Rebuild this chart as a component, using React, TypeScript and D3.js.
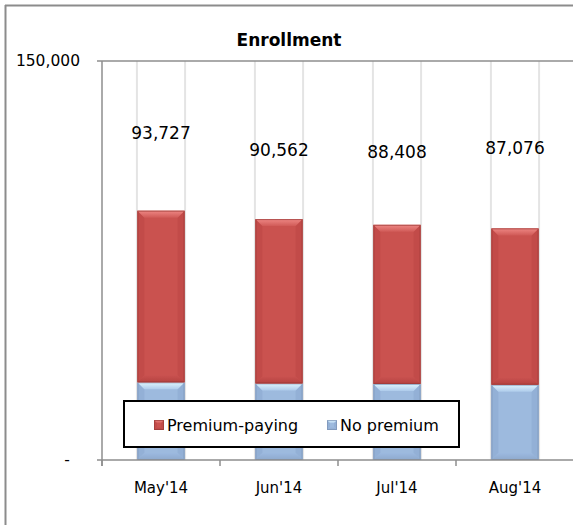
import React, { useRef, useEffect } from 'react';
import * as d3 from 'd3';

const months = ["May'14", "Jun'14", "Jul'14", "Aug'14"];
const noPremium = [29200, 28800, 28600, 28300];
const premiumPaying = [64527, 61762, 59808, 58776];
const totals = [93727, 90562, 88408, 87076];
// where Excel left the total labels floating, in value units
const labelAt = [122900, 116600, 115800, 117300];
const yTicks = [0, 150000];

const FONT = '"DejaVu Sans", sans-serif';

const App = () => {
  const ref = useRef<SVGSVGElement>(null);

  useEffect(() => {
    drawChart();
  }, []);

  const drawChart = () => {
    const width = 573;
    const height = 525;
    const svg = d3.select(ref.current);
    svg.selectAll('*').remove();

    const left = 102, right = 574, top = 61, bottom = 460;

    const x = d3.scaleBand().domain(months).range([left, right]).paddingInner(0.6).paddingOuter(0.3);
    const y = d3.scaleLinear().domain([0, 150000]).range([bottom, top]);

    const defs = svg.append('defs');
    const grad = (id, c1, c2) => {
      const g = defs.append('linearGradient').attr('id', id)
        .attr('x1', 0).attr('y1', 0).attr('x2', 0).attr('y2', 1);
      g.append('stop').attr('offset', '0%').attr('stop-color', c1);
      g.append('stop').attr('offset', '100%').attr('stop-color', c2);
    };
    grad('redTop', '#ee8784', '#d05a57');
    grad('blueTop', '#dff5fd', '#aecbeb');
    grad('redBot', '#c9514f', '#b54341');
    grad('blueBot', '#9cb9df', '#8ea9cd');

    const colors = {
      red: { base: '#ca524f', top: 'url(#redTop)', side: '#c24b49', bottom: 'url(#redBot)', stroke: '#9a3a38' },
      blue: { base: '#9dbade', top: 'url(#blueTop)', side: '#93b0d6', bottom: 'url(#blueBot)', stroke: '#7a92b4' },
    };

    // outer chart frame (only top/left visible in the window)
    svg.append('line').attr('x1', 5).attr('x2', width).attr('y1', 5.5).attr('y2', 5.5)
      .attr('stroke', '#8c8c8c').attr('stroke-width', 2);
    svg.append('line').attr('x1', 5.5).attr('x2', 5.5).attr('y1', 5).attr('y2', height)
      .attr('stroke', '#8c8c8c').attr('stroke-width', 2);

    // title
    svg.append('text').attr('x', 289).attr('y', 46).attr('text-anchor', 'middle')
      .attr('font-family', FONT).attr('font-weight', 'bold').attr('font-size', 17)
      .text('Enrollment');

    // light vertical lines at the bar edges
    months.forEach((m) => {
      [x(m) - 1, x(m) + x.bandwidth()].forEach((gx) => {
        svg.append('rect').attr('x', gx - 0.5).attr('y', top).attr('width', 2).attr('height', bottom - top)
          .attr('fill', '#e4e4e4');
      });
    });

    // top gridline (150,000)
    svg.append('line').attr('x1', 97).attr('x2', width).attr('y1', y(150000)).attr('y2', y(150000))
      .attr('stroke', '#8e8e8e').attr('stroke-width', 1.5);

    const bevelRect = (bx, by, bw, bh, c, bev = 7) => {
      const g = svg.append('g');
      const b = Math.min(bev, bh / 2, bw / 2);
      g.append('rect').attr('x', bx).attr('y', by).attr('width', bw).attr('height', bh).attr('fill', c.base);
      const poly = (pts, fill) => g.append('polygon').attr('points', pts.map((p) => p.join(',')).join(' ')).attr('fill', fill);
      poly([[bx, by], [bx + b, by + b], [bx + b, by + bh - b], [bx, by + bh]], c.side);
      poly([[bx + bw, by], [bx + bw - b, by + b], [bx + bw - b, by + bh - b], [bx + bw, by + bh]], c.side);
      poly([[bx, by + bh], [bx + b, by + bh - b], [bx + bw - b, by + bh - b], [bx + bw, by + bh]], c.bottom);
      poly([[bx, by], [bx + bw, by], [bx + bw - b, by + b], [bx + b, by + b]], c.top);
      g.append('rect').attr('x', bx + 0.5).attr('y', by + 0.5).attr('width', bw - 1).attr('height', bh - 1)
        .attr('fill', 'none').attr('stroke', c.stroke).attr('stroke-opacity', 0.7);
    };

    months.forEach((m, i) => {
      const bx = x(m);
      const bw = x.bandwidth();
      bevelRect(bx, y(noPremium[i]), bw, y(0) - y(noPremium[i]), colors.blue);
      const t = noPremium[i] + premiumPaying[i];
      bevelRect(bx, y(t), bw, y(noPremium[i]) - y(t), colors.red);
    });

    // total labels
    svg.selectAll('.total').data(totals).enter().append('text')
      .attr('x', (d, i) => x(months[i]) + x.bandwidth() / 2)
      .attr('y', (d, i) => y(labelAt[i]))
      .attr('dy', '.35em')
      .attr('text-anchor', 'middle')
      .attr('font-family', FONT).attr('font-size', 17)
      .text((d) => d3.format(',')(d));

    // axes
    svg.append('line').attr('x1', left).attr('x2', left).attr('y1', top).attr('y2', bottom + 6)
      .attr('stroke', '#8e8e8e').attr('stroke-width', 1.5);
    svg.append('line').attr('x1', 97).attr('x2', width).attr('y1', bottom).attr('y2', bottom)
      .attr('stroke', '#8e8e8e').attr('stroke-width', 1.5);
    const step = x.step();
    const x0 = x(months[0]) - x.paddingOuter() * step;
    d3.range(months.length + 1).forEach((i) => {
      svg.append('line').attr('x1', x0 + i * step).attr('x2', x0 + i * step).attr('y1', bottom).attr('y2', bottom + 6)
        .attr('stroke', '#8e8e8e').attr('stroke-width', 1.5);
    });

    yTicks.forEach((v) => {
      svg.append('text')
        .attr('x', v === 0 ? 67 : 80).attr('y', y(v)).attr('dy', '.35em')
        .attr('text-anchor', v === 0 ? 'middle' : 'end')
        .attr('font-family', FONT).attr('font-size', 15.5)
        .text(v === 0 ? '-' : d3.format(',')(v));
    });

    months.forEach((m) => {
      svg.append('text').attr('x', x(m) + x.bandwidth() / 2).attr('y', 488).attr('dy', '.35em')
        .attr('text-anchor', 'middle').attr('font-family', FONT).attr('font-weight', 'normal')
        .attr('font-size', 15).text(m);
    });

    // legend
    svg.append('rect').attr('x', 124).attr('y', 401).attr('width', 335).attr('height', 46)
      .attr('fill', '#fff').attr('stroke', '#000').attr('stroke-width', 2);
    const legend = [
      { name: 'Premium-paying', c: colors.red, x: 154 },
      { name: 'No premium', c: colors.blue, x: 327 },
    ];
    legend.forEach((l) => {
      bevelRect(l.x, 420, 10, 10, l.c, 3);
      svg.append('text').attr('x', l.x + 13).attr('y', 425).attr('dy', '.35em')
        .attr('font-family', FONT).attr('font-size', 16).text(l.name);
    });
  };

  return (
    <svg ref={ref} width={573} height={525} style={{ position: 'absolute', left: 0, top: 0, background: '#fff' }} />
  );
};

export default App;
